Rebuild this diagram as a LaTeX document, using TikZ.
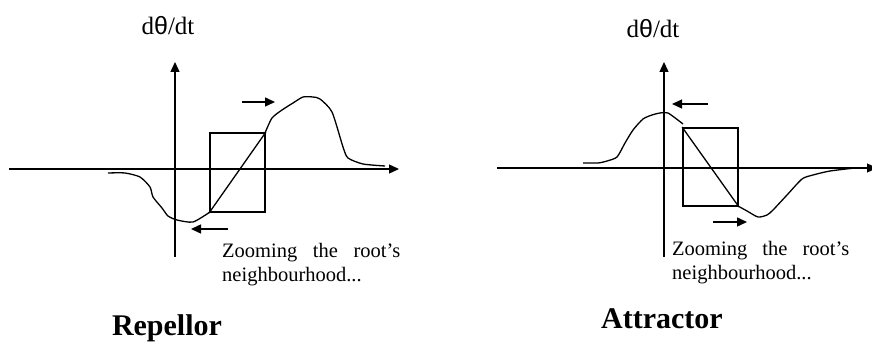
\documentclass[tikz,border=0pt]{standalone}
\usepackage{fontspec}
\setmainfont{Liberation Serif}
\newfontfamily\thetafont{Liberation Sans}
\usetikzlibrary{arrows.meta,positioning}

\begin{document}
\begin{tikzpicture}[
    x=1pt, y=-1pt,
    axis/.style={line width=1.3pt, -{Triangle[length=10pt, width=9pt]}},
    zoombox/.style={draw, line width=1.8pt, inner sep=0pt},
    curvepath/.style={line width=1.3pt, line join=round},
    flow/.style={line width=1.4pt, -{Triangle[length=10pt, width=9pt]}},
    ylabel/.style={inner sep=0pt, anchor=base, font=\fontsize{25}{28}\selectfont},
    note/.style={inner sep=0pt, anchor=north west, text width=178pt, align=left, font=\fontsize{20.5}{24.5}\selectfont},
    kind/.style={inner sep=0pt, anchor=base, font=\fontsize{30}{36}\selectfont\bfseries},
  ]
  \useasboundingbox (0,0) rectangle (872,344);

  % Repellor: axes
  \coordinate (rxl) at (9,169);
  \coordinate (rxr) at (399,169);
  \coordinate (ryb) at (175,257);
  \coordinate (ryt) at (175,62);
  \draw[axis] (rxl) -- (rxr);
  \draw[axis] (ryb) -- (ryt);
  \node[ylabel] (rlabel) at (168,35) {d{\thetafont θ}/dt};

  % Repellor: zoomed root
  \node[zoombox, minimum width=55pt, minimum height=79pt] (rbox) at (237.5,172.5) {};
  \draw[curvepath] plot[smooth, tension=0.4] coordinates {(108,173) (125,173) (140,177) (150,187) (153,197) (162,208) (168,216) (177,220) (193,222) (210,212)};
  \draw[curvepath] (rbox.south west) -- (rbox.north east);
  \draw[curvepath] plot[smooth, tension=0.4] coordinates {(265,133) (272,118) (282,110) (293,103) (303,97) (313,97) (320,99) (332,112) (343,147) (348,158) (363,164) (385,166)};

  % Repellor: flow
  \coordinate (rf1) at (242,102);
  \coordinate (rf2) at (275,102);
  \coordinate (rf3) at (228,229);
  \coordinate (rf4) at (191,229);
  \draw[flow] (rf1) -- (rf2);
  \draw[flow] (rf3) -- (rf4);

  \node[note] (rnote) at (222,243) {Zooming\hfill the\hfill root’s\\neighbourhood...};
  \node[kind] (rname) at (167,335) {Repellor};

  % Attractor: axes
  \coordinate (axl) at (497,168);
  \coordinate (axr) at (877,168);
  \coordinate (ayb) at (664,257);
  \coordinate (ayt) at (664,62);
  \draw[axis] (axl) -- (axr);
  \draw[axis] (ayb) -- (ayt);
  \node[ylabel] (alabel) at (653,38) {d{\thetafont θ}/dt};

  % Attractor: zoomed root
  \node[zoombox, minimum width=55pt, minimum height=78pt] (abox) at (710.5,167) {};
  \draw[curvepath] plot[smooth, tension=0.4] coordinates {(583,163) (598,163) (607,161) (617,157) (625,143) (633,130) (643,119) (652,115) (660,113) (668,113) (683,124)};
  \draw[curvepath] (abox.north west) -- (abox.south east);
  \draw[curvepath] plot[smooth, tension=0.4] coordinates {(738,206) (747,211) (758,217) (767,215) (773,210) (787,195) (802,179) (813,175) (830,171) (855,168)};

  % Attractor: flow
  \coordinate (af1) at (708,104);
  \coordinate (af2) at (672,104);
  \coordinate (af3) at (713,222);
  \coordinate (af4) at (747,222);
  \draw[flow] (af1) -- (af2);
  \draw[flow] (af3) -- (af4);

  \node[note, text width=177pt] (anote) at (672,241) {Zooming\hfill the\hfill root’s\\neighbourhood...};
  \node[kind] (aname) at (662,328) {Attractor};
\end{tikzpicture}
\end{document}
